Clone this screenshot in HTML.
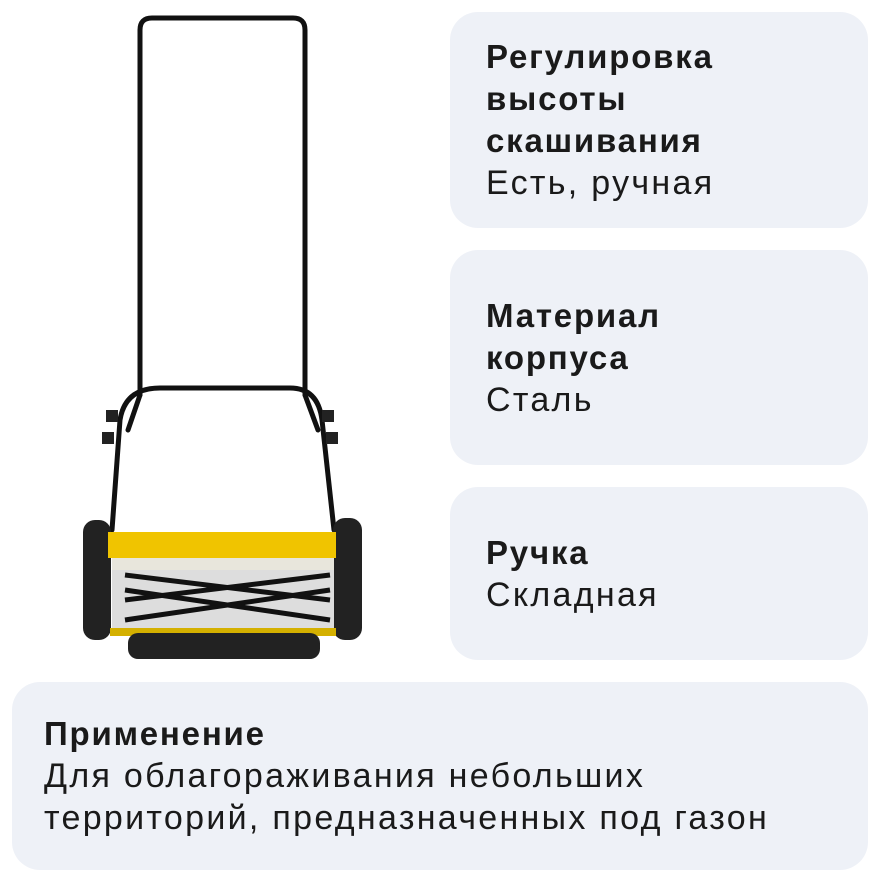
<!DOCTYPE html>
<html><head><meta charset="utf-8"><style>
html,body{margin:0;padding:0;background:#fff;}
body{width:880px;height:881px;position:relative;overflow:hidden;font-family:"Liberation Sans","DejaVu Sans",sans-serif;color:#1a1a1a;}
.card{position:absolute;background:#eef1f7;border-radius:28px;}
.t{position:absolute;font-size:34px;line-height:42px;letter-spacing:2.3px;white-space:nowrap;}
b{font-weight:700;font-size:33px;letter-spacing:1.8px;}
</style></head><body>
<div class="card" style="left:450px;top:12px;width:418px;height:216px"></div>
<div class="card" style="left:450px;top:250px;width:418px;height:215px"></div>
<div class="card" style="left:450px;top:487px;width:418px;height:173px"></div>
<div class="card" style="left:12px;top:682px;width:856px;height:188px"></div>
<div class="t" style="left:486px;top:36px"><b>Регулировка<br>высоты<br>скашивания</b><br>Есть, ручная</div>
<div class="t" style="left:486px;top:295px"><b>Материал<br>корпуса</b><br>Сталь</div>
<div class="t" style="left:486px;top:532px"><b>Ручка</b><br>Складная</div>
<div class="t" style="left:44px;top:713px"><b>Применение</b><br>Для облагораживания небольших<br>территорий, предназначенных под газон</div>
<svg style="position:absolute;left:0;top:0" width="440" height="680">
<g fill="none" stroke="#111" stroke-width="5" stroke-linejoin="round" stroke-linecap="round">
<path d="M140 395 L140 30 Q140 18 152 18 L293 18 Q305 18 305 30 L305 395"/>
<path d="M112 530 L120 420 Q125 388 160 388 L290 388 Q318 388 322 420 L334 530"/>
<path d="M140 395 L128 430"/><path d="M305 395 L318 430"/>
</g>
<rect x="106" y="410" width="12" height="12" fill="#222"/><rect x="102" y="432" width="12" height="12" fill="#222"/>
<rect x="322" y="410" width="12" height="12" fill="#222"/><rect x="326" y="432" width="12" height="12" fill="#222"/>
<rect x="83" y="520" width="28" height="120" rx="12" fill="#222"/>
<rect x="333" y="518" width="29" height="122" rx="12" fill="#222"/>
<rect x="108" y="532" width="228" height="26" fill="#f0c400"/>
<rect x="112" y="558" width="222" height="12" fill="#e8e6dc"/>
<rect x="112" y="570" width="222" height="60" fill="#ddd"/>
<g stroke="#111" stroke-width="5"><path d="M125 575 L330 600"/><path d="M125 600 L330 575"/><path d="M125 620 L330 590"/><path d="M125 590 L330 620"/></g>
<rect x="110" y="628" width="226" height="8" fill="#d4b000"/>
<rect x="128" y="633" width="192" height="26" rx="10" fill="#222"/>
</svg>
</body></html>
